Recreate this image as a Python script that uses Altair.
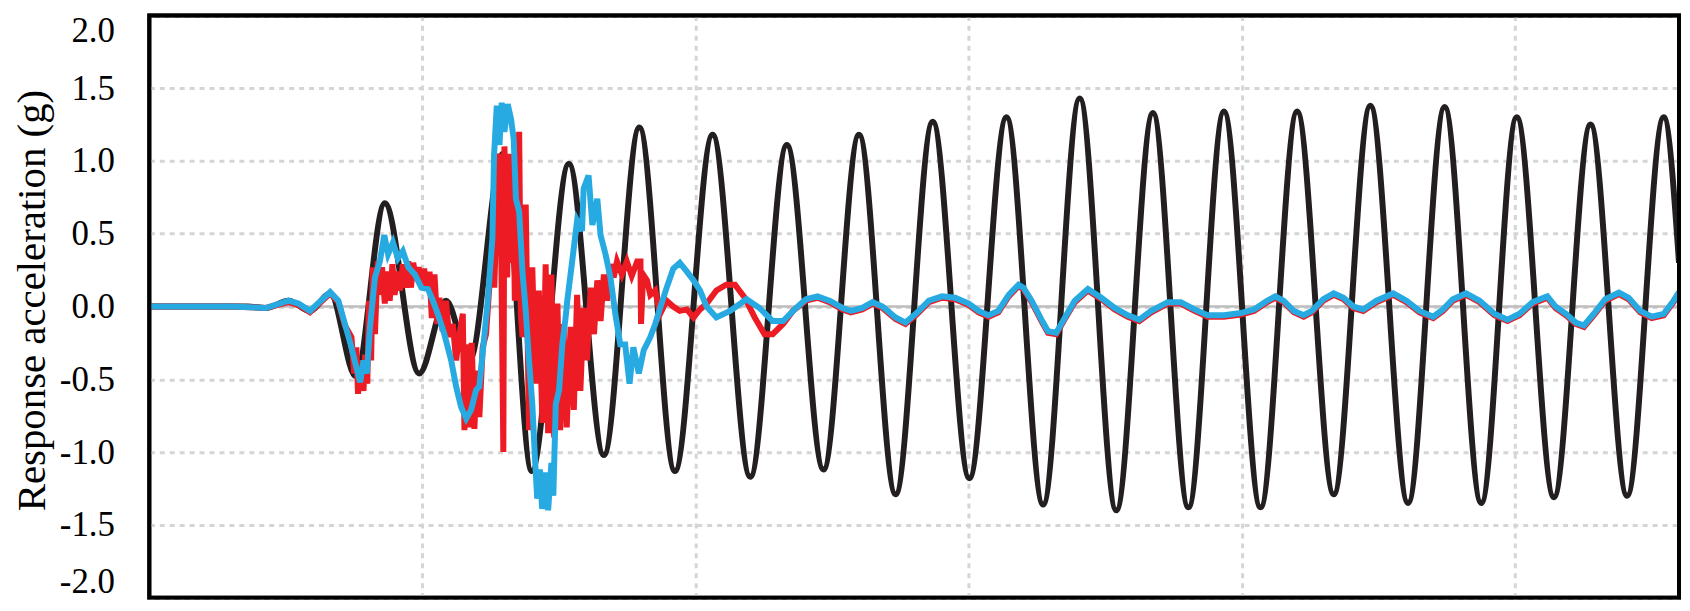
import altair as alt
import pandas as pd

# ---- data (time in s, response acceleration in g) ----
black_t = [0, 1.8, 2.13, 2.55, 2.94, 3.31, 3.78, 4.31, 4.94, 5.43, 5.86, 6.47, 7.00,
           7.68, 8.32, 8.97, 9.62, 10.31, 11.00, 11.67, 12.34, 12.99, 13.66, 14.34,
           15.01, 15.69, 16.36, 17.03, 17.70, 18.37, 19.02, 19.67, 20.34, 21.01,
           21.68, 22.35, 23.04, 23.71, 24.38, 25.03, 25.71, 26.38, 27.05, 27.72, 28.0]
black_v = [0, 0, -0.01, 0.04, -0.03, 0.09, -0.48, 0.71, -0.46, 0.04, -0.37, 1.05, -1.13,
           0.98, -1.02, 1.23, -1.13, 1.18, -1.17, 1.11, -1.12, 1.18, -1.29, 1.27,
           -1.18, 1.30, -1.36, 1.43, -1.40, 1.33, -1.38, 1.34, -1.38, 1.34,
           -1.29, 1.38, -1.35, 1.37, -1.35, 1.30, -1.31, 1.25, -1.30, 1.30, 0.30]

blue_t = [0, 1.5, 2.13, 2.55, 2.73, 2.94, 3.31, 3.46, 3.58, 3.70, 3.79, 3.86, 3.92, 3.98,
          4.04, 4.13, 4.22, 4.30, 4.37, 4.46, 4.55, 4.64, 4.74, 4.86, 4.98, 5.10, 5.19,
          5.28, 5.40, 5.525, 5.616, 5.707, 5.80, 5.89, 5.98, 6.04, 6.10, 6.19, 6.28,
          6.31, 6.36, 6.41, 6.45, 6.50, 6.56, 6.62, 6.67, 6.71, 6.77, 6.83, 6.89, 6.95,
          7.01, 7.055, 7.10, 7.15, 7.19, 7.255, 7.30, 7.36, 7.395, 7.44, 7.50, 7.56,
          7.62, 7.65, 7.74, 7.83, 7.92, 7.95, 8.04, 8.11, 8.20, 8.26, 8.35, 8.44, 8.53,
          8.62, 8.71, 8.79, 8.86, 8.96, 9.05, 9.17, 9.26, 9.35, 9.47, 9.59, 9.71, 9.84,
          9.96, 10.08, 10.20, 10.38, 10.63, 10.93, 11.17, 11.41, 11.60, 11.84, 12.02,
          12.23, 12.45, 12.69, 12.84, 13.05, 13.24, 13.42, 13.66, 13.84, 14.03, 14.27,
          14.51, 14.75, 15.00, 15.18, 15.36, 15.54, 15.73, 15.91, 16.00, 16.15, 16.33,
          16.45, 16.60, 16.76, 16.94, 17.18, 17.425, 17.67, 17.91, 18.12, 18.34, 18.64,
          18.88, 19.13, 19.37, 19.67, 19.98, 20.22, 20.46, 20.61, 20.76, 20.95, 21.13,
          21.28, 21.49, 21.68, 21.86, 22.04, 22.22, 22.46, 22.77, 23.01, 23.25, 23.50,
          23.68, 23.86, 24.10, 24.35, 24.62, 24.86, 25.08, 25.32, 25.59, 25.74, 25.93,
          26.11, 26.26, 26.44, 26.65, 26.90, 27.08, 27.29, 27.50, 27.72, 27.90, 28.0]
blue_v = [0, 0, -0.01, 0.04, 0.02, -0.03, 0.10, 0.04, -0.12, -0.28, -0.42, -0.52, -0.37, -0.46,
          -0.14, 0.20, 0.31, 0.49, 0.36, 0.44, 0.33, 0.38, 0.27, 0.22, 0.13, 0.12, 0.04,
          -0.05, -0.19, -0.37, -0.55, -0.69, -0.77, -0.71, -0.575, -0.55, -0.325, 0.02, 0.47,
          1.04, 1.38, 1.11, 1.40, 1.20, 1.39, 1.29, 1.15, 0.74, 0.65, 0.24, -0.03, -0.37,
          -0.67, -1.01, -1.32, -1.12, -1.39, -1.14, -1.40, -1.075, -1.30, -0.67, -0.575, -0.26,
          -0.075, 0.04, 0.31, 0.59, 0.52, 0.81, 0.90, 0.56, 0.74, 0.49, 0.36, 0.20, -0.05,
          -0.26, -0.26, -0.53, -0.28, -0.46, -0.30, -0.21, -0.12, -0.01, 0.13, 0.26, 0.30, 0.24,
          0.18, 0.11, 0.0, -0.075, -0.03, 0.05, -0.01, -0.10, -0.10, -0.01, 0.05,
          0.07, 0.04, -0.01, -0.03, -0.01, 0.03, 0.00, -0.075, -0.11, -0.05, 0.04,
          0.07, 0.06, 0.02, -0.03, -0.06, -0.03, 0.08, 0.15, 0.13, 0.04, -0.09,
          -0.17, -0.18, -0.075, 0.04, 0.12, 0.06, -0.01, -0.06, -0.09, -0.03, 0.03,
          0.03, -0.02, -0.06, -0.06, -0.045, -0.02, 0.04, 0.07, 0.04, -0.03, -0.06,
          -0.03, 0.05, 0.09, 0.06, 0.00, -0.02, 0.04, 0.09, 0.04, -0.03, -0.07,
          -0.02, 0.05, 0.09, 0.04, -0.05, -0.09, -0.05, 0.03, 0.07, 0.00, -0.05,
          -0.11, -0.13, -0.05, 0.05, 0.095, 0.06, -0.03, -0.07, -0.05, 0.04, 0.10]

red_t = [0, 1.5, 2.13, 2.55, 2.73, 2.94, 3.31, 3.46, 3.58, 3.70, 3.75, 3.79, 3.82, 3.87,
         3.92, 3.95, 3.99, 4.02, 4.06, 4.09, 4.13, 4.18, 4.22, 4.26, 4.31, 4.36, 4.40,
         4.45, 4.49, 4.54, 4.59, 4.64, 4.69, 4.74, 4.79, 4.83, 4.89, 4.93, 4.98, 5.03,
         5.08, 5.13, 5.17, 5.22, 5.27, 5.31, 5.37, 5.43, 5.49, 5.555, 5.616, 5.677,
         5.738, 5.768, 5.816, 5.859, 5.901, 5.950, 5.999, 6.041, 6.102, 6.163, 6.223,
         6.284, 6.314, 6.35, 6.40, 6.44, 6.48, 6.50, 6.55, 6.59, 6.63, 6.66, 6.69, 6.72,
         6.77, 6.80, 6.83, 6.89, 6.95, 7.01, 7.07, 7.13, 7.195, 7.255, 7.30, 7.36, 7.41,
         7.47, 7.52, 7.58, 7.64, 7.71, 7.77, 7.83, 7.89, 7.95, 8.01, 8.08, 8.14, 8.20,
         8.26, 8.32, 8.38, 8.44, 8.50, 8.56, 8.65, 8.74, 8.83, 8.93, 8.99, 9.00, 9.04,
         9.11, 9.17, 9.26, 9.35, 9.47, 9.59, 9.71, 9.84, 9.96, 10.08, 10.20, 10.38,
         10.56, 10.72, 10.90, 11.08, 11.26, 11.41, 11.60, 11.78, 12.02, 12.23, 12.45,
         12.69, 12.84, 13.05, 13.24, 13.42, 13.66, 13.84, 14.03, 14.27, 14.51, 14.75,
         15.00, 15.18, 15.36, 15.54, 15.73, 15.91, 16.00, 16.15, 16.33, 16.45, 16.60,
         16.76, 16.94, 17.18, 17.425, 17.67, 17.91, 18.12, 18.34, 18.64, 18.88, 19.13,
         19.37, 19.67, 19.98, 20.22, 20.46, 20.61, 20.76, 20.95, 21.13, 21.28, 21.49,
         21.68, 21.86, 22.04, 22.22, 22.46, 22.77, 23.01, 23.25, 23.50, 23.68, 23.86,
         24.10, 24.35, 24.62, 24.86, 25.08, 25.32, 25.59, 25.74, 25.93, 26.11, 26.26,
         26.44, 26.65, 26.90, 27.08, 27.29, 27.50, 27.72, 27.90, 28.0]
red_v = [0, 0, -0.01, 0.03, 0.01, -0.04, 0.09, 0.03, -0.13, -0.21, -0.46, -0.28, -0.60, -0.37,
         -0.58, -0.33, -0.53, 0.04, -0.37, 0.27, -0.19, 0.31, 0.08, 0.27, 0.02, 0.24, 0.04,
         0.29, 0.08, 0.24, 0.11, 0.29, 0.13, 0.31, 0.13, 0.30, 0.18, 0.27, 0.15, 0.26,
         0.11, 0.24, -0.08, 0.22, -0.12, 0.06, -0.17, 0.04, -0.21, -0.12, -0.37, -0.19,
         -0.05, -0.85, -0.26, -0.83, -0.25, -0.84, -0.44, -0.76, -0.28, -0.19, 0.13,
         0.27, 0.13, 0.55, 1.05, 0.45, -1.00, 1.10, 0.20, 1.05, 0.30, 0.95, 0.04, 0.75,
         1.20, -0.05, -0.21, 0.70, -0.85, 0.27, -0.53, 0.11, -0.80, 0.29, -0.87, 0.22, -0.90,
         0.02, -0.85, -0.12, -0.83, -0.14, -0.71, 0.08, -0.58, -0.01, -0.37, 0.13, -0.19, 0.18,
         -0.10, 0.22, 0.04, 0.29, 0.20, 0.31, 0.22, 0.31, 0.21, 0.31, 0.31, -0.12, 0.22,
         0.18, 0.08, 0.11, -0.05, 0.04, 0.00, -0.03, -0.02, -0.075, -0.02, 0.02, 0.11,
         0.15, 0.15, 0.06, -0.075, -0.19, -0.19, -0.12, -0.03, 0.04, 0.06, 0.03,
         -0.02, -0.04, -0.02, 0.02, -0.01, -0.085, -0.12, -0.06, 0.03, 0.06, 0.05,
         0.01, -0.04, -0.07, -0.04, 0.07, 0.14, 0.12, 0.03, -0.10, -0.18, -0.19,
         -0.085, 0.03, 0.11, 0.05, -0.02, -0.07, -0.10, -0.04, 0.02, 0.02, -0.03,
         -0.07, -0.07, -0.055, -0.03, 0.03, 0.06, 0.03, -0.04, -0.07, -0.04, 0.04,
         0.08, 0.05, -0.01, -0.03, 0.03, 0.08, 0.03, -0.04, -0.08, -0.03, 0.04,
         0.08, 0.03, -0.06, -0.10, -0.06, 0.02, 0.06, -0.01, -0.06, -0.12, -0.14,
         -0.06, 0.04, 0.085, 0.05, -0.04, -0.08, -0.06, 0.03, 0.09]

y_ticks = [-2.0, -1.5, -1.0, -0.5, 0.0, 0.5, 1.0, 1.5, 2.0]
x_grid = [5, 10, 15, 20, 25]

FONT = "Liberation Serif"
GRID = "#d5d5d5"
W, H = 1537, 585

xs = alt.Scale(domain=[0, 28], nice=False, zero=False)
ys = alt.Scale(domain=[-2, 2], nice=False)

x_axis = alt.Axis(values=x_grid, labels=False, ticks=False, domain=False, grid=True,
                  gridColor=GRID, gridDash=[5, 5], gridWidth=3, title=None)
y_axis = alt.Axis(values=y_ticks, grid=True, gridColor=GRID, gridDash=[5, 5], gridWidth=3,
                  ticks=False, tickSize=0, domain=False,
                  labelExpr="datum.value < 0 ? '-' + format(-datum.value, '.1f') : format(datum.value, '.1f')",
                  labelFont=FONT, labelFontSize=35, labelColor="#000000", labelPadding=35,
                  labelFlush=True, labelFlushOffset=2,
                  title="Response acceleration (g)", titleFont=FONT, titleFontSize=41,
                  titleFontWeight="normal", titleColor="#000000", titleAngle=270,
                  titleBaseline="alphabetic", titleAlign="center", titleX=-105, titleY=286)

black_df = pd.DataFrame({"t": black_t, "v": black_v})
blue_df = pd.DataFrame({"t": blue_t, "v": blue_v})
red_df = pd.DataFrame({"t": red_t, "v": red_v})
zero_df = pd.DataFrame({"v": [0.0]})

base_axes = alt.Chart(zero_df).mark_rule(color="#bdbdbd", strokeWidth=2.5).encode(
    y=alt.Y("v:Q", scale=ys, axis=y_axis),
    x=alt.value(0), x2=alt.value(W),
)
grid_x = alt.Chart(pd.DataFrame({"t": x_grid})).mark_point(opacity=0).encode(
    x=alt.X("t:Q", scale=xs, axis=x_axis)
)

black = alt.Chart(black_df).mark_line(color="#231f20", strokeWidth=6,
                                      interpolate="monotone", clip=True).encode(
    x=alt.X("t:Q", scale=xs), y=alt.Y("v:Q", scale=ys))
red = alt.Chart(red_df).mark_line(color="#ed1c24", strokeWidth=6, clip=True).encode(
    x=alt.X("t:Q", scale=xs), y=alt.Y("v:Q", scale=ys))
blue = alt.Chart(blue_df).mark_line(color="#27aae1", strokeWidth=6, clip=True).encode(
    x=alt.X("t:Q", scale=xs), y=alt.Y("v:Q", scale=ys))

frame = alt.Chart(zero_df).mark_rect(fillOpacity=0, stroke="#000000", strokeWidth=4).encode(
    x=alt.value(0), x2=alt.value(W), y=alt.value(0), y2=alt.value(H))

chart = alt.layer(grid_x, base_axes, black, red, blue, frame).properties(
    width=W, height=H,
    background="white",
    autosize=alt.AutoSizeParams(type="none"),
    padding={"left": 142, "top": 6, "right": 3, "bottom": 14},
).configure_view(stroke="#000000", strokeWidth=4)

chart.save("out.html", embed_options={"renderer": "svg", "actions": False})
